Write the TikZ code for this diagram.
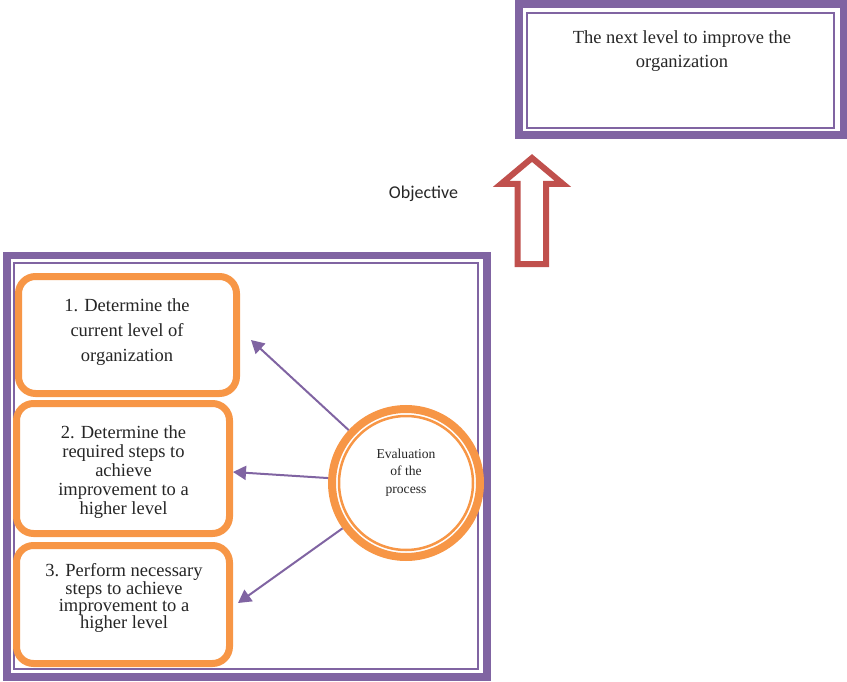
\documentclass[tikz,border=0pt]{standalone}
\usepackage{fontspec}
\setmainfont{Liberation Serif}
\newfontfamily\labelsans{Carlito}
\usetikzlibrary{arrows.meta}

\definecolor{framepurple}{HTML}{8064A2}
\definecolor{steporange}{HTML}{F79646}
\definecolor{goalred}{HTML}{C0504D}

\tikzset{
  outerband/.style={draw=framepurple, line width=8pt},
  innerline/.style={draw=framepurple, line width=2pt},
  stepbox/.style={draw=steporange, line width=7pt, rounded corners=17pt,
    rectangle, inner sep=0pt, fill=white},
  steptext/.style={align=center, text=black!85, inner sep=0pt},
  linkarrow/.style={draw=framepurple, line width=2pt,
    -{Triangle[length=13pt,width=14pt]}},
}

\begin{document}
\begin{tikzpicture}[x=1pt, y=-1pt]
\useasboundingbox (0,0) rectangle (847,682);

% target box, double purple frame
\draw[outerband] (519,4.5) rectangle (843.5,135.5);
\draw[innerline] (527,13) rectangle (834,128);
\node[steptext, font=\fontsize{18.5}{24}\selectfont] (goal) at (682,51)
  {The next level to improve the\\organization};

% hollow upward arrow
\draw[goalred, line width=6pt, line join=miter, fill=white]
  (532,158) -- (563,184) -- (546,184) -- (546,264) -- (517.5,264)
  -- (517.5,184) -- (501,184) -- cycle;
\node[font=\labelsans\fontsize{18}{22}\selectfont, text=black!85, inner sep=0pt]
  (objective) at (423.5,193.3) {Objective};

% process frame, double purple
\draw[outerband, line width=7.5pt] (6.75,255.5) rectangle (487,677);
\draw[innerline] (14,263) rectangle (478,669);

% step boxes
\node[stepbox, minimum width=218pt, minimum height=117pt] (b1) at (127.5,335) {};
\node[stepbox, minimum width=213pt, minimum height=130pt] (b2) at (123,468.5) {};
\node[stepbox, minimum width=213pt, minimum height=118pt] (b3) at (123,604.5) {};

\node[steptext, font=\fontsize{18.5}{25}\selectfont] (b1t) at (127,332)
  {1. Determine the\\current level of\\organization};
\node[steptext, font=\fontsize{18.5}{19}\selectfont] (b2t) at (123.5,472)
  {2. Determine the\\required steps to\\achieve\\improvement to a\\higher level};
\node[steptext, font=\fontsize{18.5}{16.8}\selectfont] (b3t) at (124,598)
  {3. Perform necessary\\steps to achieve\\improvement to a\\higher level};

% evaluation circle with thick and thin orange rings
\node[circle, draw=steporange, line width=8pt, minimum size=148pt, inner sep=0pt]
  (ev) at (406,483) {};
\node[circle, draw=steporange, line width=2.5pt, minimum size=134pt, inner sep=0pt]
  (evin) at (406,483) {};
\node[steptext, font=\fontsize{13.6}{17.4}\selectfont] (evt) at (406,472.4)
  {Evaluation\\of the\\process};

% arrow tips next to the step boxes
\coordinate (t1) at (251,340);
\coordinate (t2) at (233,472);
\coordinate (t3) at (238,603);

\draw[linkarrow] (ev) -- (t1);
\draw[linkarrow] (ev) -- (t2);
\draw[linkarrow] (ev) -- (t3);
\end{tikzpicture}
\end{document}
